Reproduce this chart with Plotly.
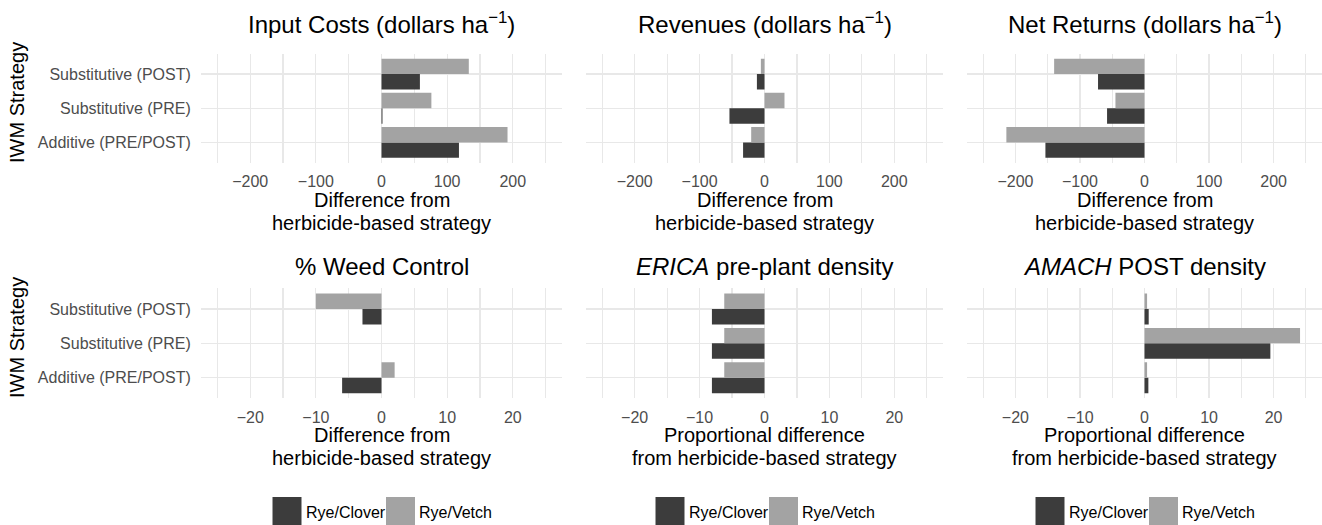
import plotly.graph_objects as go

# ---------------- data ----------------
strategies = ["Additive (PRE/POST)", "Substitutive (PRE)", "Substitutive (POST)"]
series_names = ["Rye/Clover", "Rye/Vetch"]

input_costs_clover = [118, 1.5, 58.5]
input_costs_vetch = [192, 76, 133]
revenues_clover = [-33, -54, -11.7]
revenues_vetch = [-20.5, 30.8, -5.6]
net_returns_clover = [-153.5, -58, -72]
net_returns_vetch = [-214, -45, -140]
weed_control_clover = [-6.0, 0, -2.9]
weed_control_vetch = [2.0, 0, -10.0]
erica_clover = [-8.1, -8.1, -8.1]
erica_vetch = [-6.2, -6.2, -6.2]
amach_clover = [0.6, 19.5, 0.65]
amach_vetch = [0.4, 24.1, 0.4]

panel_titles = [
    "Input Costs (dollars ha<sup>−1</sup>)",
    "Revenues (dollars ha<sup>−1</sup>)",
    "Net Returns (dollars ha<sup>−1</sup>)",
    "% Weed Control",
    "<i>ERICA</i> pre-plant density",
    "<i>AMACH</i> POST density",
]
x_title_lines = [
    ("Difference from", "herbicide-based strategy"),
    ("Difference from", "herbicide-based strategy"),
    ("Difference from", "herbicide-based strategy"),
    ("Difference from", "herbicide-based strategy"),
    ("Proportional difference", "from herbicide-based strategy"),
    ("Proportional difference", "from herbicide-based strategy"),
]
y_title = "IWM Strategy"

panels = [
    (input_costs_clover, input_costs_vetch),
    (revenues_clover, revenues_vetch),
    (net_returns_clover, net_returns_vetch),
    (weed_control_clover, weed_control_vetch),
    (erica_clover, erica_vetch),
    (amach_clover, amach_vetch),
]

# ---------------- style / layout ----------------
W, H = 1322, 525
FONT = "Liberation Sans, Arial, sans-serif"
DARK = "#3c3c3c"
LIGHT = "#a3a3a3"
GRID = "#e8e8e8"
TICK = "#4d4d4d"

cols = [(201, 562), (586, 943), (967, 1322)]
col_centers = [(a + b) / 2 for a, b in cols]
rows = [(53.5, 163), (288.4, 398.3)]


def px_x(x):
    return x / W


def px_y(y):
    return 1 - y / H


fig = go.Figure()
layout = dict(
    width=W, height=H,
    margin=dict(l=0, r=0, t=0, b=0),
    paper_bgcolor="white", plot_bgcolor="white",
    barmode="group", bargap=0.1, bargroupgap=0,
    showlegend=False,
    font=dict(family=FONT, color="black"),
)

annotations = []
shapes = []

for i, (clover, vetch) in enumerate(panels):
    r, c = divmod(i, 3)
    n = i + 1
    xa = "x" if n == 1 else f"x{n}"
    ya = "y" if n == 1 else f"y{n}"
    for name, vals, col in ((series_names[0], clover, DARK), (series_names[1], vetch, LIGHT)):
        fig.add_trace(go.Bar(
            x=vals, y=strategies, orientation="h", name=name,
            marker=dict(color=col, line=dict(width=0)),
            xaxis=xa, yaxis=ya, showlegend=False,
        ))
    big = r == 0
    rng = [-275, 275] if big else [-27.5, 27.5]
    dt = 100 if big else 10
    x0, x1 = cols[c]
    yt, yb = rows[r]
    layout["xaxis" if n == 1 else f"xaxis{n}"] = dict(
        domain=[px_x(x0), px_x(x1)], range=rng, anchor=ya,
        tick0=0, dtick=dt, showgrid=True, gridcolor=GRID, gridwidth=1.2,
        minor=dict(dtick=dt / 2, tick0=0, showgrid=True, gridcolor=GRID, gridwidth=1.2),
        zeroline=False, showline=False,
        ticks="outside", ticklen=4, tickcolor="rgba(0,0,0,0)",
        tickfont=dict(size=16, color=TICK, family=FONT),
        fixedrange=True,
    )
    layout["yaxis" if n == 1 else f"yaxis{n}"] = dict(
        domain=[px_y(yb), px_y(yt)], anchor=xa,
        type="category", categoryorder="array", categoryarray=strategies,
        range=[-0.6, 2.6], showgrid=True, gridcolor=GRID, gridwidth=1.2,
        zeroline=False, showline=False,
        showticklabels=(c == 0),
        ticks="outside", ticklen=6, tickcolor="rgba(0,0,0,0)",
        tickfont=dict(size=16, color=TICK, family=FONT),
        fixedrange=True,
    )
    cx = col_centers[c]
    # panel title
    annotations.append(dict(
        text=panel_titles[i], x=px_x(cx), y=px_y(23 if big else 266),
        xref="paper", yref="paper", xanchor="center", yanchor="middle",
        showarrow=False, font=dict(size=24, color="black", family=FONT),
    ))
    # x-axis title (two lines, tight line spacing)
    l1, l2 = x_title_lines[i]
    base = yb
    annotations.append(dict(
        text=l1, x=px_x(cx), y=px_y(base + 37), xref="paper", yref="paper",
        xanchor="center", yanchor="middle", showarrow=False,
        font=dict(size=20, color="black", family=FONT),
    ))
    annotations.append(dict(
        text=l2, x=px_x(cx), y=px_y(base + 59.5), xref="paper", yref="paper",
        xanchor="center", yanchor="middle", showarrow=False,
        font=dict(size=20, color="black", family=FONT),
    ))

# y-axis titles
for yc in (103, 338):
    annotations.append(dict(
        text=y_title, x=px_x(17), y=px_y(yc), xref="paper", yref="paper",
        xanchor="center", yanchor="middle", textangle=-90, showarrow=False,
        font=dict(size=20, color="black", family=FONT),
    ))

# legends (one per column)
for cx in col_centers:
    for (k0, k1, tx), name, col in (((cx - 109, cx - 80, cx - 78), series_names[0], DARK),
                                    ((cx + 4.5, cx + 33.5, cx + 35.5), series_names[1], LIGHT)):
        shapes.append(dict(
            type="rect", xref="paper", yref="paper",
            x0=px_x(k0), x1=px_x(k1), y0=px_y(527), y1=px_y(497),
            fillcolor=col, line=dict(width=0), layer="above",
        ))
        annotations.append(dict(
            text=name, x=px_x(tx), y=px_y(512), xref="paper", yref="paper",
            xanchor="left", yanchor="middle", showarrow=False,
            font=dict(size=16, color="black", family=FONT),
        ))

layout["annotations"] = annotations
layout["shapes"] = shapes
fig.update_layout(**layout)
fig.write_html(
    "out.html",
    config={"displayModeBar": False, "staticPlot": True},
    post_script="document.body.style.margin='0px';document.body.style.overflow='hidden';",
)
